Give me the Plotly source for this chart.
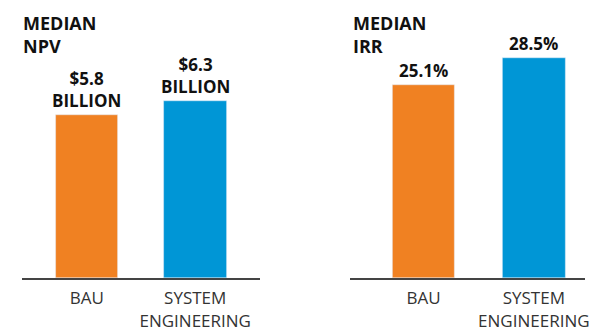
import plotly.graph_objects as go

categories = ["BAU", "SYSTEM<br>ENGINEERING"]
npv_billion = [5.8, 6.3]
irr_pct = [25.1, 28.5]
bar_colors = ["#F08122", "#0096D6"]

W, H = 589, 332
PLOT_BOTTOM = 282  # pixel row of the baseline

fig = go.Figure()

fig.add_trace(go.Bar(x=[0, 1], y=npv_billion, marker_color=bar_colors,
                     width=0.578, xaxis="x", yaxis="y", hoverinfo="skip"))
fig.add_trace(go.Bar(x=[0, 1], y=irr_pct, marker_color=bar_colors,
                     width=0.568, xaxis="x2", yaxis="y2", hoverinfo="skip"))

axis_common = dict(
    tickmode="array", tickvals=[0, 1], ticktext=categories,
    tickfont=dict(family="Open Sans", size=17, color="#333333"),
    ticklabeloverflow="allow", ticklabelstandoff=4,
    showgrid=False, zeroline=False, showline=True,
    linecolor="#444444", linewidth=2, ticks="", fixedrange=True,
)

fig.update_layout(
    width=W, height=H,
    margin=dict(l=0, r=0, t=0, b=H - PLOT_BOTTOM),
    paper_bgcolor="white", plot_bgcolor="white",
    showlegend=False,
    bargap=0,
    xaxis=dict(domain=[22 / W, 262 / W], range=[-0.6, 1.6], **axis_common),
    xaxis2=dict(domain=[352 / W, 1.0], range=[-0.671, 1.464], **axis_common),
    yaxis=dict(domain=[0, 1], range=[0, PLOT_BOTTOM / 28.5], visible=False,
               fixedrange=True),
    yaxis2=dict(domain=[0, 1], range=[0, PLOT_BOTTOM / 7.815], visible=False,
                anchor="x2", fixedrange=True),
)
fig.update_layout(xaxis2_anchor="y2")

label_font = dict(family="Open Sans", size=17, color="#111111")
title_font = dict(family="Open Sans", size=18, color="#111111")

annotations = []
# Panel headings
for x0, txt in [(21 / W, "<b>MEDIAN<br>NPV</b>"), (353 / W, "<b>MEDIAN<br>IRR</b>")]:
    annotations.append(dict(xref="paper", yref="paper", x=x0, y=1 - 9 / PLOT_BOTTOM,
                            xanchor="left", yanchor="top", align="left",
                            text=txt, showarrow=False, font=title_font))

# NPV value labels
for i, v in enumerate(npv_billion):
    annotations.append(dict(xref="x", yref="y", x=i, y=v, yanchor="bottom",
                            yshift=1, text=f"<b>${v}<br>BILLION</b>",
                            showarrow=False, font=label_font))

# IRR value labels
for i, v in enumerate(irr_pct):
    annotations.append(dict(xref="x2", yref="y2", x=i, y=v, yanchor="bottom",
                            yshift=1, text=f"<b>{v}%</b>", showarrow=False,
                            font=label_font))

fig.update_layout(annotations=annotations)

fig.write_html("out.html")
